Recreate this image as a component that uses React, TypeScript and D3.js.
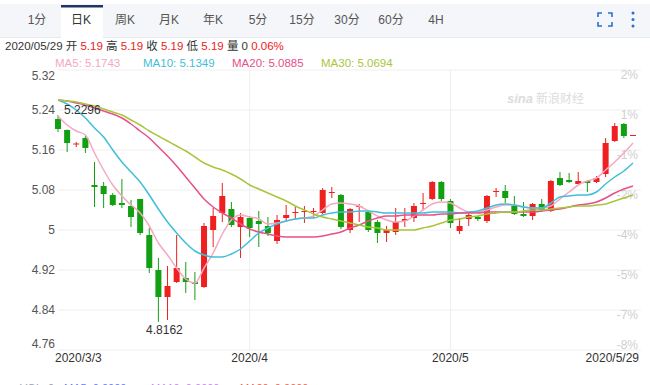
import React from 'react';
import * as d3 from 'd3';

// ---------- data ----------
const dates = [
  '3/3','3/4','3/5','3/6','3/9','3/10','3/11','3/12','3/13','3/16','3/17','3/18','3/19','3/20','3/23','3/24','3/25','3/26','3/27','3/30','3/31',
  '4/1','4/2','4/3','4/6','4/7','4/8','4/9','4/10','4/13','4/14','4/15','4/16','4/17','4/20','4/21','4/22','4/23','4/24','4/27','4/28','4/29','4/30',
  '5/1','5/4','5/5','5/6','5/7','5/8','5/11','5/12','5/13','5/14','5/15','5/18','5/19','5/20','5/21','5/22','5/25','5/26','5/27','5/28','5/29',
];
const opens = [
  5.222,5.200,5.171,5.184,5.090,5.088,5.070,5.054,5.048,5.062,
  4.990,4.920,4.866,4.896,4.904,4.896,4.886,5.000,5.034,5.042,
  5.006,5.024,5.018,5.008,4.978,5.024,5.034,5.036,5.036,5.034,
  5.074,5.070,5.000,5.046,5.036,5.016,4.994,4.996,5.018,5.024,
  5.052,5.062,5.096,5.058,4.998,5.022,5.026,5.018,5.076,5.078,
  5.048,5.032,5.028,5.052,5.038,5.104,5.100,5.092,5.098,5.096,
  5.112,5.178,5.212,5.19,
];
const closes = [
  5.202,5.174,5.173,5.164,5.086,5.072,5.050,5.050,5.026,4.994,
  4.924,4.866,4.888,4.924,4.896,4.892,5.008,5.028,5.068,5.010,
  5.026,5.004,5.012,4.994,5.020,5.030,5.036,5.038,5.038,5.080,
  5.076,5.006,5.042,5.048,5.000,4.994,5.000,5.016,5.022,5.048,
  5.054,5.096,5.062,5.014,5.008,5.030,5.022,5.068,5.078,5.064,
  5.032,5.028,5.052,5.040,5.098,5.090,5.096,5.098,5.094,5.104,
  5.174,5.208,5.188,5.19,
];
const highs = [
  5.2296,5.201,5.176,5.188,5.136,5.096,5.074,5.102,5.060,5.062,
  5.004,4.944,4.928,4.990,4.936,4.916,5.014,5.044,5.094,5.056,
  5.034,5.028,5.038,5.026,5.030,5.050,5.046,5.048,5.044,5.084,
  5.086,5.072,5.044,5.052,5.040,5.020,5.008,5.044,5.044,5.054,
  5.074,5.098,5.098,5.062,5.024,5.034,5.028,5.070,5.084,5.090,
  5.068,5.056,5.054,5.062,5.100,5.116,5.114,5.116,5.100,5.108,
  5.184,5.214,5.214,5.19,
];
const lows = [
  5.196,5.156,5.166,5.154,5.046,5.044,5.048,5.044,5.006,4.990,
  4.914,4.8162,4.82,4.894,4.874,4.860,4.884,4.966,5.016,5.006,
  4.944,4.986,4.966,4.988,4.972,5.018,5.020,5.014,5.024,5.032,
  5.064,5.002,4.994,5.016,4.996,4.974,4.976,4.990,5.006,5.016,
  5.040,5.060,5.058,5.004,4.992,5.008,5.018,5.014,5.066,5.054,
  5.030,5.026,5.020,5.036,5.036,5.088,5.094,5.092,5.076,5.094,
  5.106,5.176,5.184,5.19,
];
const ma5 = [
  5.228,5.210,5.198,5.190,5.154,5.120,5.090,5.068,5.050,5.034,
  5.008,4.974,4.950,4.924,4.902,4.894,4.924,4.954,4.992,5.020,
  5.030,5.026,5.022,5.012,5.014,5.018,5.022,5.024,5.028,5.040,
  5.052,5.054,5.052,5.048,5.038,5.028,5.020,5.016,5.018,5.028,
  5.040,5.052,5.056,5.054,5.044,5.036,5.036,5.040,5.046,5.050,
  5.050,5.046,5.044,5.044,5.048,5.062,5.076,5.090,5.098,5.104,
  5.120,5.136,5.154,5.174,
];
const ma10 = [
  5.260,5.252,5.240,5.224,5.204,5.186,5.160,5.136,5.116,5.096,
  5.070,5.042,5.016,4.994,4.974,4.958,4.950,4.946,4.946,4.952,
  4.962,4.978,4.994,5.004,5.012,5.018,5.022,5.024,5.024,5.030,
  5.034,5.036,5.036,5.038,5.038,5.036,5.034,5.034,5.034,5.034,
  5.034,5.036,5.036,5.036,5.034,5.036,5.038,5.044,5.050,5.052,
  5.050,5.046,5.044,5.044,5.054,5.066,5.068,5.070,5.070,5.076,
  5.092,5.106,5.118,5.134,
];
const ma20 = [
  5.260,5.258,5.254,5.250,5.244,5.238,5.232,5.224,5.212,5.198,
  5.184,5.166,5.148,5.128,5.106,5.084,5.062,5.046,5.034,5.024,
  5.012,5.002,4.996,4.992,4.988,4.986,4.986,4.986,4.986,4.988,
  4.992,4.996,5.004,5.010,5.018,5.024,5.028,5.028,5.030,5.030,
  5.030,5.030,5.032,5.032,5.034,5.034,5.034,5.036,5.036,5.036,
  5.036,5.036,5.036,5.038,5.040,5.042,5.046,5.050,5.052,5.056,
  5.064,5.074,5.082,5.088,
];
const ma30 = [
  5.260,5.258,5.256,5.252,5.248,5.242,5.236,5.230,5.220,5.210,
  5.198,5.188,5.178,5.168,5.158,5.146,5.134,5.126,5.120,5.112,
  5.102,5.090,5.082,5.074,5.066,5.058,5.048,5.040,5.032,5.026,
  5.022,5.018,5.014,5.010,5.006,5.004,5.000,5.000,5.000,5.000,
  5.004,5.008,5.014,5.020,5.022,5.026,5.028,5.032,5.034,5.036,
  5.036,5.038,5.040,5.040,5.042,5.044,5.046,5.048,5.048,5.050,
  5.052,5.058,5.064,5.070,
];
const priceTicks = [5.32, 5.24, 5.16, 5.08, 5.0, 4.92, 4.84, 4.76];
const pctLabels = ['2%', '1%', '-1%', '-2%', '-4%', '-5%', '-7%', '-8%'];
const xTickDates = ['3/3', '4/1', '5/1', '5/29'];
const xTickLabels = ['2020/3/3', '2020/4', '2020/5', '2020/5/29'];
const gridDates = ['4/1', '5/1'];
const tabs = ['1分', '日K', '周K', '月K', '年K', '5分', '15分', '30分', '60分', '4H'];
const maNames = ['MA5', 'MA10', 'MA20', 'MA30'];
const maLast = ['5.1743', '5.1349', '5.0885', '5.0694'];
const volLegend = ['VOL: 0', 'MA5: 0.0000', 'MA10: 0.0000', 'MA20: 0.0000'];

// ---------- styles ----------
const W = 650;
const H = 385;
const FONT = "'Liberation Sans', Arial, 'Noto Sans CJK SC', sans-serif";
const RED = '#ee2020';
const GREEN = '#12a012';
const MA_COLORS = ['#f5a8c2', '#3fbfd9', '#e8508a', '#a8c63c'];
const VOL_COLORS = ['#9a9ab0', '#6a7cf0', '#c78ae8', '#e86a50'];
const GRID = '#efefef';

export default function App() {
  const x = d3.scalePoint<string>().domain(dates).range([58, 633]);
  const y = d3.scaleLinear().domain([4.76, 5.32]).range([350, 70]);
  const maSeries = [ma5, ma10, ma20, ma30];
  const line = d3
    .line<number>()
    .x((_, i) => x(dates[i]) as number)
    .y((d) => y(d))
    .curve(d3.curveMonotoneX);

  const maxHigh = d3.max(highs) as number;
  const maxIdx = highs.indexOf(maxHigh);
  const minLow = d3.min(lows) as number;
  const minIdx = lows.indexOf(minLow);
  const candleW = 6;

  const tabX = [37, 81, 125, 169, 213, 258, 302, 347, 391, 436];
  const maX = [55, 143, 232, 321];
  const volX = [20, 64, 151, 240];

  return (
    <svg
      width={W}
      height={H}
      style={{ position: 'absolute', left: 0, top: 0, background: '#fff', fontFamily: FONT }}
    >
      {/* tab bar */}
      <rect x={0} y={4} width={650} height={33} fill="#f4f6f9" />
      <line x1={0} x2={650} y1={37.5} y2={37.5} stroke="#e6e9ee" />
      <rect x={61} y={6} width={42} height={32} fill="#fff" />
      <rect x={61} y={5} width={42} height={2.5} fill="#1e3566" />
      {tabs.map((t, i) => (
        <text key={t} x={tabX[i]} y={24} fontSize={12} textAnchor="middle" fill={i === 1 ? '#333' : '#555'}>
          {t}
        </text>
      ))}
      {/* fullscreen icon */}
      <g stroke="#2a6fd6" strokeWidth={1.6} fill="none">
        <path d="M598 17 V13 H602" />
        <path d="M608 13 H612 V17" />
        <path d="M598 22 V26 H602" />
        <path d="M608 26 H612 V22" />
      </g>
      <g fill="#2a6fd6">
        <circle cx={633} cy={13} r={1.5} />
        <circle cx={633} cy={19.5} r={1.5} />
        <circle cx={633} cy={26} r={1.5} />
      </g>

      {/* info line */}
      <text x={5} y={50} fontSize={11.5} fill="#333">
        <tspan>2020/05/29 开 </tspan>
        <tspan fill={RED}>5.19</tspan>
        <tspan> 高 </tspan>
        <tspan fill={RED}>5.19</tspan>
        <tspan> 收 </tspan>
        <tspan fill={RED}>5.19</tspan>
        <tspan> 低 </tspan>
        <tspan fill={RED}>5.19</tspan>
        <tspan> 量 0 </tspan>
        <tspan fill={RED}>0.06%</tspan>
      </text>
      {maNames.map((n, i) => (
        <text key={n} x={maX[i]} y={67} fontSize={11.5} fill={MA_COLORS[i]}>
          {`${n}: ${maLast[i]}`}
        </text>
      ))}

      {/* grid */}
      {priceTicks.map((t) => (
        <line key={t} x1={58} x2={641} y1={y(t)} y2={y(t)} stroke={GRID} />
      ))}
      {gridDates.map((d) => (
        <line key={d} x1={x(d)} x2={x(d)} y1={70} y2={350} stroke={GRID} />
      ))}

      {/* watermark */}
      <text x={507} y={103} fontSize={13} fill="#dcdcdc" fontStyle="italic" fontWeight="bold">
        sina
      </text>
      <text x={536} y={103} fontSize={12} fill="#dcdcdc">
        新浪财经
      </text>

      {/* left axis labels */}
      {priceTicks.map((t, i) => {
        const off = i === 0 ? 6 : i === priceTicks.length - 1 ? -6 : 0;
        return (
          <text key={t} x={55} y={y(t) + off + 4} fontSize={12} textAnchor="end" fill="#555">
            {String(t)}
          </text>
        );
      })}
      {/* right axis labels */}
      {pctLabels.map((l, i) => {
        const off = i === pctLabels.length - 1 ? -5 : 5;
        return (
          <text key={l} x={638} y={y(priceTicks[i]) + off + 4} fontSize={12} textAnchor="end" fill="#cfcfcf">
            {l}
          </text>
        );
      })}

      {/* candles */}
      {dates.map((d, i) => {
        const cx = x(d) as number;
        const up = closes[i] >= opens[i];
        const c = up ? RED : GREEN;
        const top = y(Math.max(opens[i], closes[i]));
        const bot = y(Math.min(opens[i], closes[i]));
        return (
          <g key={d}>
            <line x1={cx} x2={cx} y1={y(highs[i])} y2={y(lows[i])} stroke={c} strokeWidth={1} />
            <rect x={cx - candleW / 2} y={top} width={candleW} height={Math.max(1, bot - top)} fill={c} />
          </g>
        );
      })}

      {/* MA lines */}
      {maSeries.map((s, i) => (
        <path key={i} d={line(s) as string} fill="none" stroke={MA_COLORS[i]} strokeWidth={1.5} />
      ))}

      {/* max / min labels */}
      <text x={(x(dates[maxIdx]) as number) + 6} y={y(maxHigh) - 1} fontSize={12} fill="#333">
        {maxHigh.toFixed(4)}
      </text>
      <text x={(x(dates[minIdx]) as number) + 6} y={y(minLow) + 12} fontSize={12} textAnchor="middle" fill="#333">
        {minLow.toFixed(4)}
      </text>

      {/* x labels */}
      {xTickDates.map((d, i) => {
        const anchor = i === 0 ? 'start' : i === xTickDates.length - 1 ? 'end' : 'middle';
        const dx = i === 0 ? -3 : i === xTickDates.length - 1 ? 6 : 0;
        return (
          <text key={d} x={(x(d) as number) + dx} y={362} fontSize={12} textAnchor={anchor} fill="#333">
            {xTickLabels[i]}
          </text>
        );
      })}

      {/* volume legend, cut off by the bottom edge as in the reference */}
      {volLegend.map((t, i) => (
        <text key={t} x={volX[i]} y={392} fontSize={11} fill={VOL_COLORS[i]}>
          {t}
        </text>
      ))}
    </svg>
  );
}
